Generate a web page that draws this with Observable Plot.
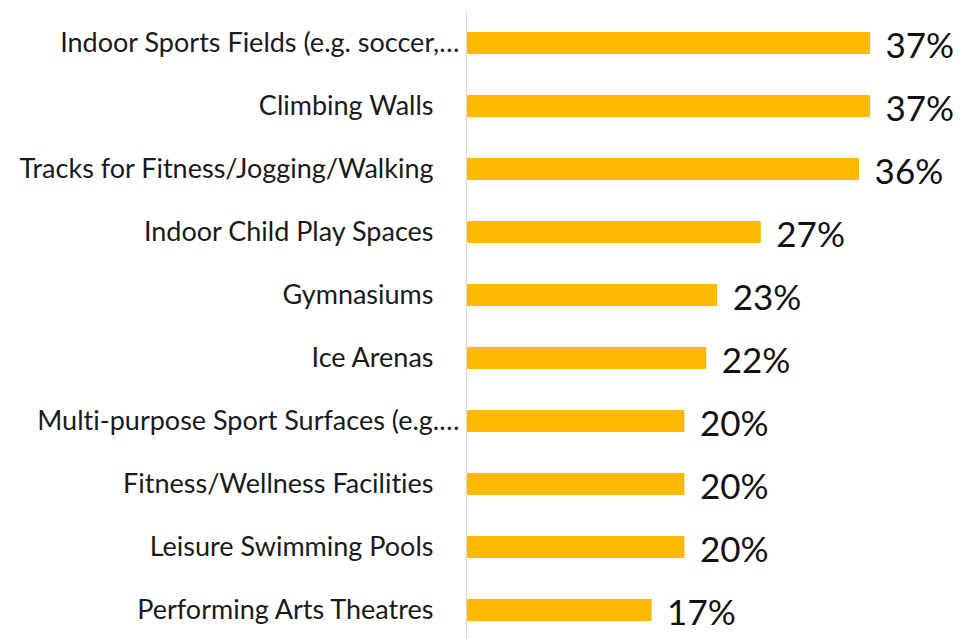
<!DOCTYPE html>
<html>
<head>
<meta charset="utf-8">
<script src="https://cdn.jsdelivr.net/npm/d3@7"></script>
<script src="https://cdn.jsdelivr.net/npm/@observablehq/plot@0.6"></script>
<style>
  html, body { margin: 0; padding: 0; background: #fff; }
  #chart svg { display: block; }
  #chart text { font-variant-ligatures: none; }
</style>
</head>
<body>
<div id="chart"></div>
<script>
const categories = [
  "Indoor Sports Fields (e.g. soccer,…",
  "Climbing Walls",
  "Tracks for Fitness/Jogging/Walking",
  "Indoor Child Play Spaces",
  "Gymnasiums",
  "Ice Arenas",
  "Multi-purpose Sport Surfaces (e.g.…",
  "Fitness/Wellness Facilities",
  "Leisure Swimming Pools",
  "Performing Arts Theatres"
];
const values = [37, 37, 36, 27, 23, 22, 20, 20, 20, 17];

const data = categories.map((c, i) => ({category: c, value: values[i]}));
const truncated = d => d.category.endsWith("…");

const chart = Plot.plot({
  width: 970,
  height: 639,
  marginTop: 10,
  marginBottom: 0,
  marginLeft: 466,
  marginRight: 100,
  style: {background: "#fff", fontFamily: "Lato, 'Open Sans', sans-serif"},
  x: {domain: [0, d3.max(values)], axis: null},
  y: {domain: categories, axis: null, paddingInner: 0.652, paddingOuter: 0.30, align: 0.55},
  marks: [
    Plot.barX(data, {x: "value", y: "category", fill: "#FFB900"}),
    Plot.ruleX([0], {stroke: "#d9d9d9", strokeWidth: 1.2}),
    Plot.text(data, {filter: truncated, x: 0, y: "category", text: "category",
      textAnchor: "end", dx: -7, fontSize: 27, fill: "#1a1a1a"}),
    Plot.text(data, {filter: d => !truncated(d), x: 0, y: "category", text: "category",
      textAnchor: "end", dx: -33, fontSize: 27, fill: "#1a1a1a"}),
    Plot.text(data, {x: "value", y: "category", text: d => d.value + "%",
      textAnchor: "start", dx: 15, dy: 3, fontSize: 35, fill: "#111"})
  ]
});
document.getElementById("chart").append(chart);
</script>
</body>
</html>
